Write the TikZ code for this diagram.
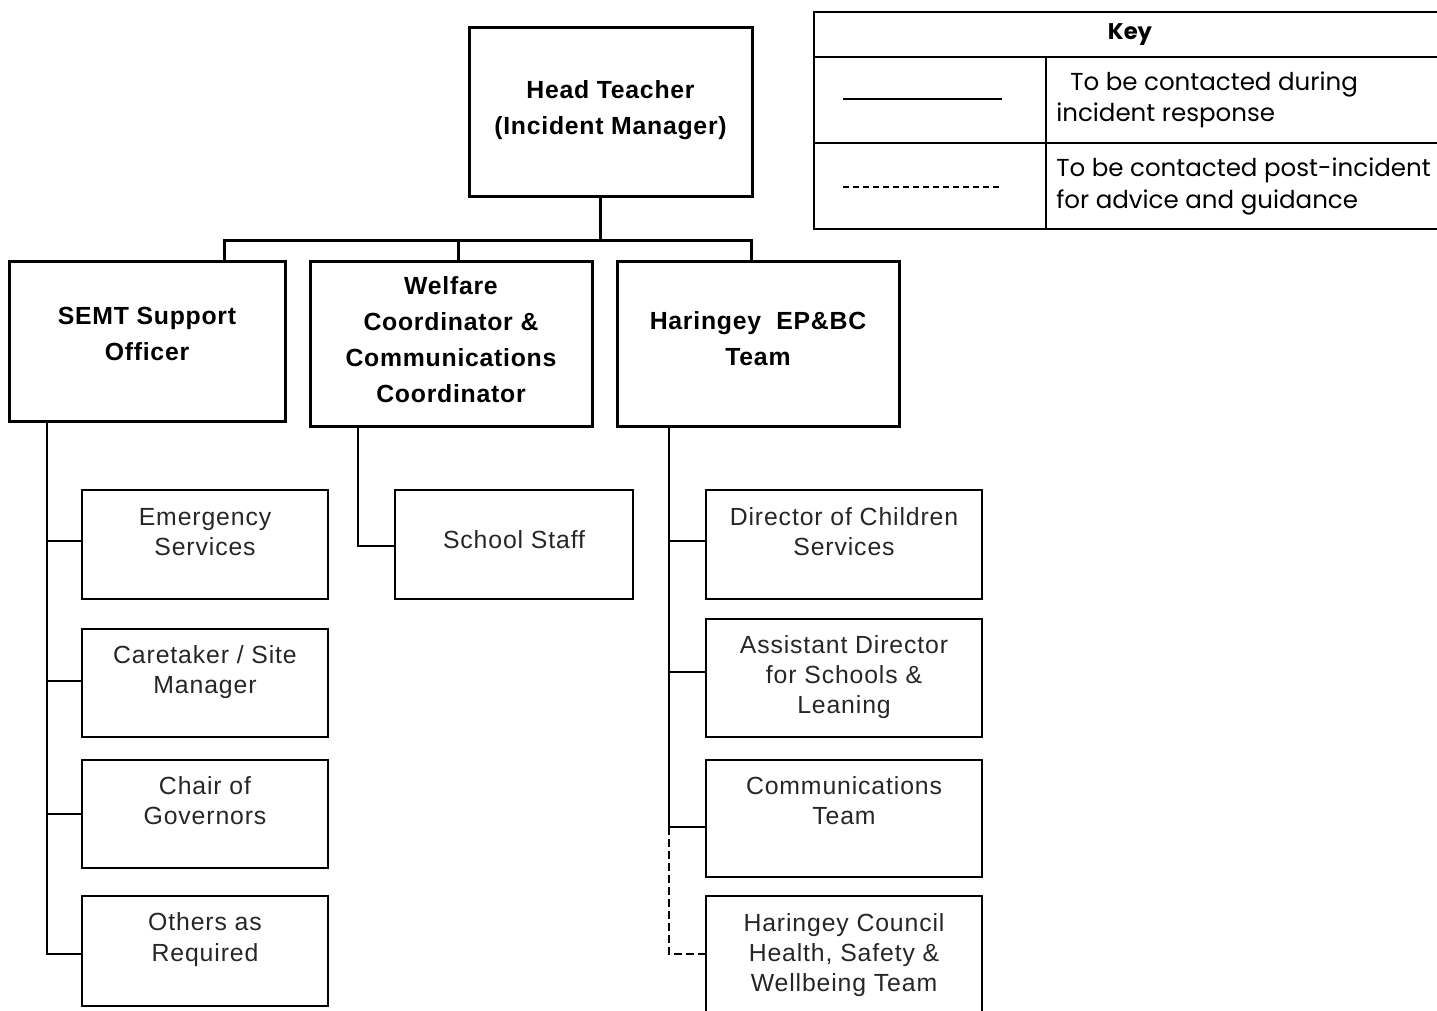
\documentclass[tikz,border=0pt]{standalone}
\usepackage{fontspec}
\newfontfamily\boxfont[LetterSpace=3]{Liberation Sans}
\newfontfamily\subfont[LetterSpace=3.5]{Liberation Sans}
\newfontfamily\keyfont{Poppins}
\newcommand\lift[1]{\rule[\dimexpr-#1pt*3/2\relax]{0pt}{0pt}}
\tikzset{
  sz/.style 2 args={minimum width=#1*0.75pt, minimum height=#2*0.75pt},
  topbox/.style={draw, line width=2.25pt, inner sep=0pt, align=center,
    font=\boxfont\bfseries\fontsize{18.6}{27}\selectfont},
  subbox/.style={draw, line width=1.5pt, inner sep=0pt, align=center, text=black!85,
    font=\subfont\fontsize{18.6}{22.5}\selectfont},
  lvl1/.style={line width=2.25pt},
  lvl2/.style={line width=1.5pt},
  postline/.style={line width=1.5pt, dash pattern=on 6pt off 3pt},
  keyline/.style={line width=1.5pt},
  keytext/.style={anchor=west, align=left, inner sep=0pt,
    font=\keyfont\fontsize{18.4}{23.6}\selectfont},
}
\begin{document}
\begin{tikzpicture}[x=0.75pt, y=-0.75pt]
\path[use as bounding box] (0,0) rectangle (1437,1010);
\clip (0,0) rectangle (1437,1010);

% top level
\node[topbox, sz={283}{169}] (head) at (610.5,111.5) {Head Teacher\\(Incident Manager)\lift{3.5}};
\node[topbox, sz={276}{160}] (semt) at (147,341) {SEMT Support\\Officer\lift{7.5}};
\node[topbox, sz={282}{165}] (welfare) at (451,343.5) {Welfare\\Coordinator \&\\Communications\\Coordinator\lift{4}};
\node[topbox, sz={282}{165}] (ep) at (758,343.5) {Haringey\ \ EP\&BC\\Team\lift{4.5}};

% bus
\coordinate (bH) at (600,240);
\coordinate (bL) at (224,240);
\coordinate (bM) at (458,240);
\coordinate (bR) at (751,240);
\draw[lvl1] (head.south -| bH) -- (bH);
\draw[lvl1] (semt.north -| bL) -- (bL) -- (bR) -- (bR |- ep.north);
\draw[lvl1] (bM) -- (bM |- welfare.north);

% SEMT children
\node[subbox, sz={246}{109}] (emerg) at (205,544.5) {Emergency\\Services\lift{13}};
\node[subbox, sz={246}{108}] (care) at (205,683) {Caretaker / Site\\Manager\lift{13}};
\node[subbox, sz={246}{108}] (chair) at (205,814) {Chair of\\Governors\lift{13}};
\node[subbox, sz={246}{110}] (others) at (205,951) {Others as\\Required\lift{14}};
\coordinate (sx) at (47,0);
\draw[lvl2] (semt.south -| sx) |- ([yshift=2.6pt]emerg.west);
\draw[lvl2] (semt.south -| sx) |- ([yshift=1.5pt]care.west);
\draw[lvl2] (semt.south -| sx) |- (chair.west);
\draw[lvl2] (semt.south -| sx) |- ([yshift=-2.2pt]others.west);

% Welfare child
\node[subbox, sz={238}{109}] (staff) at (514,544.5) {School Staff\lift{4.5}};
\coordinate (wx) at (358,0);
\draw[lvl2] (welfare.south -| wx) |- ([yshift=-1.1pt]staff.west);

% EP&BC children
\node[subbox, sz={276}{109}] (dir) at (844,544.5) {Director of Children\\Services\lift{13}};
\node[subbox, sz={276}{118}] (asst) at (844,678) {Assistant Director\\for Schools \&\\Leaning\lift{3}};
\node[subbox, sz={276}{117}] (comm) at (844,818.5) {Communications\\Team\lift{17.5}};
\node[subbox, sz={276}{118}] (hc) at (844,955) {Haringey Council\\Health, Safety \&\\Wellbeing Team\lift{1.5}};
\coordinate (rx) at (669,0);
\draw[lvl2] (ep.south -| rx) |- ([yshift=2.6pt]dir.west);
\draw[lvl2] (ep.south -| rx) |- ([yshift=4.5pt]asst.west);
\draw[lvl2] (ep.south -| rx) |- ([yshift=-6.4pt]comm.west);
\draw[postline] ([yshift=-6.4pt]comm.west -| rx) |- ([yshift=0.75pt]hc.west);

% Key
\draw[keyline] (814,12) rectangle (1446,229);
\draw[keyline] (814,57) -- (1446,57);
\draw[keyline] (814,143) -- (1446,143);
\draw[keyline] (1046,57) -- (1046,229);
\node[inner sep=0pt, font=\keyfont\bfseries\fontsize{17}{20}\selectfont] (keyhead) at (1130,35) {Key};
\coordinate (sA) at (843,99);
\coordinate (sB) at (1002,99);
\coordinate (dA) at (843,187);
\coordinate (dB) at (1002,187);
\draw[keyline] (sA) -- (sB);
\draw[keyline, dash pattern=on 4.5pt off 3pt] (dA) -- (dB);
\node[keytext] (k1) at (1056,100) {\hspace*{10.5pt}To be contacted during\\incident response};
\node[keytext] (k2) at (1056,186.5) {To be contacted post-incident\\for advice and guidance};
\end{tikzpicture}
\end{document}
